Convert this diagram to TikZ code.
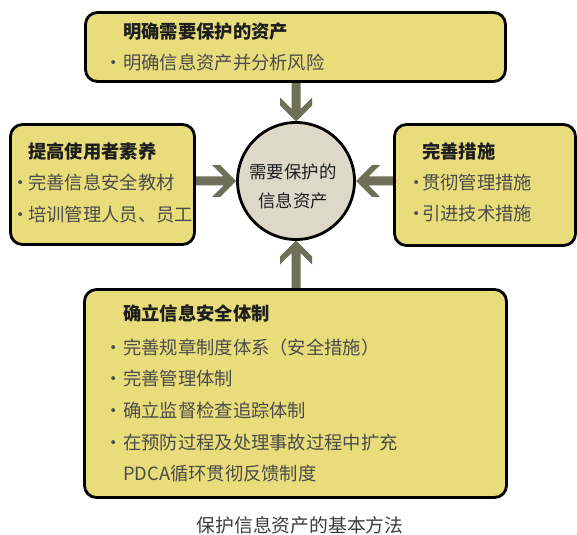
\documentclass[tikz,border=0pt]{standalone}
\usepackage{fontspec}
\setmainfont{Noto Sans CJK SC}
\usetikzlibrary{calc}
\definecolor{boxfill}{RGB}{233,220,123}
\definecolor{circfill}{RGB}{221,216,199}
\definecolor{arrowcol}{RGB}{110,112,88}
\definecolor{headcol}{RGB}{30,30,30}
\definecolor{itemcol}{RGB}{75,75,75}
\definecolor{captcol}{RGB}{60,60,60}
\newcommand\mybul[1]{\llap{\makebox[#1][c]{·}}}
\newcommand\chevarrow[2]{%
  \begin{scope}[shift={(#1)}, rotate=#2]
    \fill[arrowcol] (0,0) -- (-16,-16) -- (-24,-16) -- (-12.5,-4.5) -- (-60,-4.5)
      -- (-60,4.5) -- (-12.5,4.5) -- (-24,16) -- (-16,16) -- cycle;
  \end{scope}}
\begin{document}
\begin{tikzpicture}[x=1bp,y=-1bp,
  box/.style={rectangle, draw=black, line width=2.8bp, fill=boxfill, rounded corners=12bp, inner sep=0},
  circnode/.style={circle, draw=black, line width=2.8bp, fill=circfill, inner sep=0, minimum size=117bp},
  itemtxt/.style={anchor=base west, inner sep=0, font=\fontsize{18.3bp}{22bp}\selectfont, text=itemcol},
  headtxt/.style={anchor=base west, inner sep=0, font=\fontsize{18.3bp}{22bp}\selectfont\bfseries, text=headcol},
  coretxt/.style={anchor=center, align=center, inner sep=0, font=\fontsize{17.4bp}{29bp}\selectfont, text=headcol},
  capttxt/.style={anchor=base, inner sep=0, font=\fontsize{18.8bp}{22bp}\selectfont, text=captcol}]
\useasboundingbox (0,0) rectangle (577,535);

% center circle (position only, drawn after the arrows)
\path (296,181) coordinate (cc);
\coordinate (ctop) at (296,121.5);
\coordinate (cleft) at (236,181);
\coordinate (cright) at (356,181);
\coordinate (cbot) at (296,240.5);

% arrows (drawn first; boxes cover the shafts' ends)
\chevarrow{ctop}{-90}
\chevarrow{cleft}{0}
\chevarrow{cright}{180}
\chevarrow{cbot}{90}

% boxes
\node[box, minimum width=420bp, minimum height=69bp] (topbox) at (295.5,47) {};
\node[box, minimum width=184bp, minimum height=120bp] (leftbox) at (102.5,184.5) {};
\node[box, minimum width=181bp, minimum height=121bp] (rightbox) at (485,185) {};
\node[box, minimum width=422bp, minimum height=208bp] (botbox) at (295.5,393.5) {};
\node[circnode] (circ) at (cc) {};

% top box text
\node[headtxt] (t0) at (123,39) {明确需要保护的资产};
\node[itemtxt] (t1) at (123,70) {\mybul{19bp}明确信息资产并分析风险};

% left box text
\node[headtxt] (l0) at (28,159) {提高使用者素养};
\node[itemtxt] (l1) at (28,190) {\mybul{15bp}完善信息安全教材};
\node[itemtxt] (l2) at (28,222) {\mybul{15bp}培训管理人员、员工};

% right box text
\node[headtxt] (r0) at (422,159) {完善措施};
\node[itemtxt] (r1) at (422,190) {\mybul{11bp}贯彻管理措施};
\node[itemtxt] (r2) at (422,221) {\mybul{11bp}引进技术措施};

% bottom box text
\node[headtxt] (b0) at (123,320) {确立信息安全体制};
\node[itemtxt] (b1) at (123,354) {\mybul{19bp}完善规章制度体系（安全措施）};
\node[itemtxt] (b2) at (123,385) {\mybul{19bp}完善管理体制};
\node[itemtxt] (b3) at (123,417) {\mybul{19bp}确立监督检查追踪体制};
\node[itemtxt] (b4) at (123,449) {\mybul{19bp}在预防过程及处理事故过程中扩充};
\node[itemtxt] (b5) at (123,480) {PDCA循环贯彻反馈制度};

% circle text
\node[coretxt] (core) at (293,186.5) {需要保护的\\信息资产};

% caption
\node[capttxt] (cap) at (300,532) {保护信息资产的基本方法};
\end{tikzpicture}
\end{document}
